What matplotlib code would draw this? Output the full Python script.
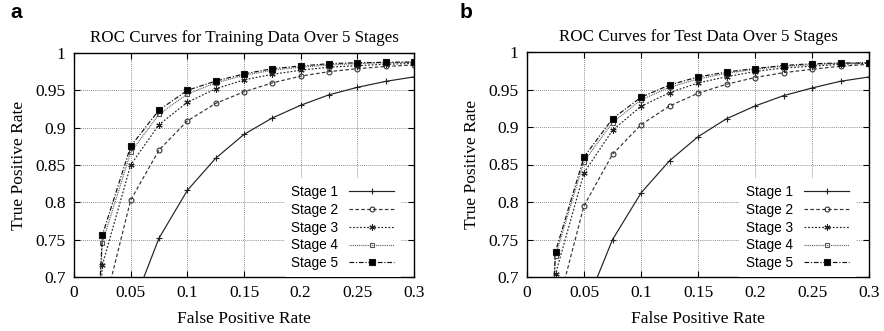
import matplotlib
matplotlib.use('Agg')
import matplotlib.pyplot as plt

# false positive rates (0 added so curves run down out of view at the left)
fpr = [0.0, 0.025, 0.05, 0.075, 0.1, 0.125, 0.15, 0.175, 0.2, 0.225, 0.25, 0.275, 0.3]

# training data, true positive rates per stage
train_s1 = [0.0, 0.50, 0.654, 0.752, 0.816, 0.859, 0.891, 0.913, 0.930, 0.944, 0.954, 0.962, 0.968]
train_s2 = [0.0, 0.650, 0.803, 0.870, 0.909, 0.9325, 0.948, 0.960, 0.969, 0.975, 0.979, 0.982, 0.984]
train_s3 = [0.0, 0.716, 0.850, 0.904, 0.934, 0.952, 0.964, 0.9714, 0.977, 0.981, 0.983, 0.985, 0.986]
train_s4 = [0.0, 0.746, 0.867, 0.918, 0.945, 0.960, 0.970, 0.977, 0.981, 0.984, 0.9857, 0.987, 0.9875]
train_s5 = [0.0, 0.756, 0.875, 0.9235, 0.950, 0.9624, 0.972, 0.979, 0.9826, 0.9857, 0.987, 0.9875, 0.988]

# test data
test_s1 = [0.0, 0.50, 0.656, 0.7498, 0.812, 0.855, 0.887, 0.911, 0.928, 0.9418, 0.952, 0.961, 0.9667]
test_s2 = [0.0, 0.649, 0.795, 0.8636, 0.903, 0.928, 0.945, 0.957, 0.966, 0.9724, 0.977, 0.981, 0.9836]
test_s3 = [0.0, 0.704, 0.839, 0.8956, 0.9276, 0.9458, 0.9587, 0.967, 0.974, 0.9787, 0.981, 0.9836, 0.985]
test_s4 = [0.0, 0.7284, 0.854, 0.906, 0.936, 0.953, 0.964, 0.9716, 0.977, 0.981, 0.983, 0.985, 0.986]
test_s5 = [0.0, 0.734, 0.860, 0.911, 0.9396, 0.956, 0.9667, 0.9733, 0.978, 0.982, 0.9844, 0.9853, 0.9853]

stage_labels = ["Stage 1", "Stage 2", "Stage 3", "Stage 4", "Stage 5"]
styles = [
    dict(ls='-', marker='+', ms=4, mfc='black', color='#222222'),
    dict(ls=(0, (3, 2)), marker='o', ms=3.5, mfc='none', color='#333333'),
    dict(ls=(0, (1.5, 1.5)), marker=(6, 2, 0), ms=4.5, mfc='#222222', color='#222222'),
    dict(ls=(0, (0.8, 0.8)), marker='s', ms=3.5, mfc='none', color='#555555'),
    dict(ls=(0, (4, 1.5, 1, 1.5)), marker='s', ms=4.5, mfc='black', color='#111111'),
]

serif = ['Liberation Serif', 'DejaVu Serif']
sans = ['Liberation Sans', 'DejaVu Sans']

fig = plt.figure(figsize=(8.84, 3.31), dpi=100, facecolor='white')
ax1 = fig.add_axes([74/884, 1-277/331, 340/884, 224/331])
ax2 = fig.add_axes([527/884, 1-277/331, 342/884, 225/331])

panels = [
    (ax1, [train_s1, train_s2, train_s3, train_s4, train_s5],
     "ROC Curves for Training Data Over 5 Stages", "a"),
    (ax2, [test_s1, test_s2, test_s3, test_s4, test_s5],
     "ROC Curves for Test Data Over 5 Stages", "b"),
]

for ax, series, title, tag in panels:
    for vals, lab, st in zip(series, stage_labels, styles):
        ax.plot(fpr, vals, label=lab, lw=0.85, mew=0.8, mec=st['color'], **st)
    ax.set_xlim(0, 0.3)
    ax.set_ylim(0.7, 1.0)
    ax.set_xticks([0, 0.05, 0.1, 0.15, 0.2, 0.25, 0.3])
    ax.set_xticklabels(["0", "0.05", "0.1", "0.15", "0.2", "0.25", "0.3"])
    ax.set_yticks([0.7, 0.75, 0.8, 0.85, 0.9, 0.95, 1.0])
    ax.set_yticklabels(["0.7", "0.75", "0.8", "0.85", "0.9", "0.95", "1"])
    ax.grid(True, ls=(0, (1, 1.5)), color='#666666', lw=0.6)
    ax.set_axisbelow(True)
    ax.tick_params(direction='in', top=True, right=True, length=4, width=0.8,
                   labelsize=12.5, pad=6)
    for lbl in ax.get_xticklabels() + ax.get_yticklabels():
        lbl.set_family(serif)
    for sp in ax.spines.values():
        sp.set_linewidth(1.0)
    ax.set_title(title, family=serif, fontsize=12.2, pad=8)
    ax.set_xlabel("False Positive Rate", family=serif, fontsize=12.5, labelpad=7)
    ax.set_ylabel("True Positive Rate", family=serif, fontsize=12.5, labelpad=6)
    leg = ax.legend(loc='lower right', bbox_to_anchor=(0.962, 0.0),
                    markerfirst=False, frameon=True,
                    prop={'family': sans, 'size': 9.8}, handlelength=3.3,
                    labelspacing=0.28, borderaxespad=0.0, borderpad=0.5,
                    handletextpad=0.8, fancybox=False)
    leg.get_frame().set_facecolor('white')
    leg.get_frame().set_edgecolor('none')
    leg.get_frame().set_alpha(1.0)

fig.text(10/884, 1-13/331, "a", family=sans, fontsize=15, fontweight='bold', va='center')
fig.text(460/884, 1-13/331, "b", family=sans, fontsize=15, fontweight='bold', va='center')

fig.savefig('out.png', dpi=100, facecolor='white')
plt.close(fig)
